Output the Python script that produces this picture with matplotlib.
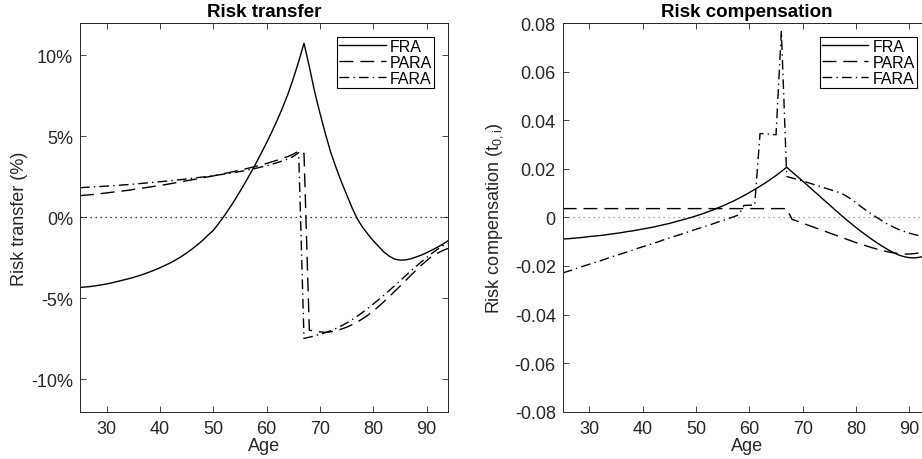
import matplotlib
matplotlib.use("Agg")
import matplotlib.pyplot as plt

# =========================
# DATA
# =========================

ages = list(range(25, 95))

# risk transfer (%)
rt_fra = [-4.33, -4.30, -4.27, -4.22, -4.17, -4.11, -4.04, -3.96, -3.88, -3.80,
          -3.71, -3.61, -3.50, -3.38, -3.25, -3.11, -2.96, -2.80, -2.62, -2.42,
          -2.20, -1.96, -1.70, -1.42, -1.10, -0.80, -0.38, 0.07, 0.55, 1.06,
          1.60, 2.16, 2.74, 3.34, 3.97, 4.62, 5.30, 6.02, 6.79, 7.62,
          8.58, 9.62, 10.75, 9.30, 7.75, 6.42, 5.18, 4.02, 3.08, 2.20,
          1.40, 0.60, -0.10, -0.62, -1.05, -1.45, -1.80, -2.15, -2.40, -2.58,
          -2.64, -2.63, -2.56, -2.45, -2.33, -2.18, -2.02, -1.85, -1.66, -1.45]
rt_para = [1.34, 1.37, 1.40, 1.43, 1.47, 1.51, 1.55, 1.59, 1.63, 1.67,
           1.72, 1.77, 1.82, 1.87, 1.92, 1.97, 2.02, 2.08, 2.14, 2.20,
           2.26, 2.32, 2.38, 2.44, 2.50, 2.56, 2.63, 2.70, 2.77, 2.84,
           2.91, 2.99, 3.07, 3.15, 3.24, 3.33, 3.43, 3.53, 3.64, 3.76,
           3.90, 4.10, 3.95, -6.97, -7.02, -7.07, -7.10, -7.07, -7.00, -6.90,
           -6.78, -6.63, -6.46, -6.26, -6.03, -5.78, -5.50, -5.20, -4.89, -4.57,
           -4.25, -3.92, -3.59, -3.27, -2.96, -2.67, -2.40, -2.22, -2.05, -1.92]
rt_fara = [1.83, 1.85, 1.87, 1.89, 1.91, 1.93, 1.95, 1.97, 2.00, 2.02,
           2.05, 2.08, 2.11, 2.14, 2.17, 2.20, 2.23, 2.26, 2.30, 2.33,
           2.37, 2.41, 2.45, 2.49, 2.53, 2.57, 2.62, 2.67, 2.72, 2.77,
           2.83, 2.89, 2.96, 3.03, 3.11, 3.19, 3.28, 3.38, 3.49, 3.61,
           3.76, 4.00, -7.48, -7.40, -7.32, -7.23, -7.12, -7.00, -6.86, -6.70,
           -6.52, -6.32, -6.10, -5.86, -5.61, -5.35, -5.08, -4.80, -4.51, -4.22,
           -3.92, -3.62, -3.32, -3.03, -2.75, -2.48, -2.22, -1.98, -1.76, -1.62]

# risk compensation
rc_fra = [-0.0089, -0.0088, -0.0086, -0.0084, -0.0082, -0.0079, -0.0077, -0.0075, -0.0072, -0.0069,
          -0.0066, -0.0063, -0.0059, -0.0056, -0.0052, -0.0048, -0.0044, -0.0040, -0.0035, -0.0030,
          -0.0025, -0.0019, -0.0013, -0.0007, -0.0001, 0.0006, 0.0013, 0.0021, 0.0029, 0.0038,
          0.0047, 0.0057, 0.0067, 0.0078, 0.0090, 0.0102, 0.0115, 0.0128, 0.0142, 0.0157,
          0.0172, 0.0189, 0.0206, 0.0187, 0.0168, 0.0149, 0.0130, 0.0110, 0.0091, 0.0071,
          0.0052, 0.0032, 0.0013, -0.0006, -0.0024, -0.0042, -0.0059, -0.0075, -0.0091, -0.0106,
          -0.0120, -0.0133, -0.0145, -0.0155, -0.0162, -0.0166, -0.0167, -0.0164, -0.0159, -0.0152]
rc_para = [0.0036] * 43 + [
           -0.0008, -0.0016, -0.0024, -0.0032, -0.0040, -0.0048, -0.0056,
           -0.0064, -0.0072, -0.0080, -0.0088, -0.0096, -0.0104, -0.0111, -0.0118, -0.0125, -0.0131,
           -0.0137, -0.0142, -0.0146, -0.0149, -0.0151, -0.0151, -0.0149, -0.0146, -0.0142, -0.0138]
rc_fara = [-0.0229, -0.0222, -0.0215, -0.0207, -0.0200, -0.0193, -0.0186, -0.0179, -0.0172, -0.0164,
           -0.0157, -0.0150, -0.0143, -0.0136, -0.0128, -0.0121, -0.0114, -0.0107, -0.0100, -0.0092,
           -0.0085, -0.0078, -0.0071, -0.0064, -0.0056, -0.0049, -0.0042, -0.0035, -0.0028, -0.0020,
           -0.0013, -0.0006, 0.0002, 0.0010, 0.0049, 0.0050, 0.0051, 0.0345, 0.0344, 0.0342,
           0.0340, 0.0768, 0.0168, 0.0162, 0.0156, 0.0150, 0.0143, 0.0136, 0.0129, 0.0122,
           0.0115, 0.0108, 0.0101, 0.0090, 0.0076, 0.0060, 0.0043, 0.0027, 0.0012, -0.0002,
           -0.0016, -0.0029, -0.0040, -0.0050, -0.0058, -0.0065, -0.0071, -0.0076, -0.0079, -0.0082]

labels = ["FRA", "PARA", "FARA"]

x_ticks = [30, 40, 50, 60, 70, 80, 90]
rt_ticks = [-10, -5, 0, 5, 10]
rt_tick_labels = ["-10%", "-5%", "0%", "5%", "10%"]
rc_ticks = [-0.08, -0.06, -0.04, -0.02, 0, 0.02, 0.04, 0.06, 0.08]
rc_tick_labels = ["-0.08", "-0.06", "-0.04", "-0.02", "0", "0.02", "0.04", "0.06", "0.08"]

# =========================
# STYLE
# =========================

plt.rcParams['font.family'] = ['Liberation Sans', 'DejaVu Sans']
plt.rcParams['mathtext.default'] = 'regular'
plt.rcParams['axes.unicode_minus'] = False

dash = (10, 5)
dashdot = (7, 3, 1, 3)


def style_axes(ax):
    ax.set_xlim(25, 94)
    ax.set_xticks(x_ticks)
    ax.tick_params(direction='in', top=True, right=True, length=4.5, width=0.6,
                   labelsize=13, colors='0.15')
    ax.tick_params(axis='x', pad=6)
    ax.tick_params(axis='y', pad=5)
    for s in ax.spines.values():
        s.set_color('0.15')
        s.set_linewidth(0.7)
    ax.set_xlabel("Age", fontsize=13, color='0.15', labelpad=0)


def draw(ax, fra, para, fara):
    ax.plot(ages, fra, color='k', lw=1.0, label=labels[0])
    ax.plot(ages, para, color='k', lw=1.0, dashes=dash, label=labels[1])
    ax.plot(ages, fara, color='k', lw=1.0, dashes=dashdot, label=labels[2])
    leg = ax.legend(loc='upper right', fontsize=11.5, fancybox=False, framealpha=1,
                    edgecolor='k', borderaxespad=0.85, borderpad=0.15,
                    labelspacing=0.05, handlelength=2.9, handletextpad=0.25)
    leg.get_frame().set_linewidth(0.8)


fig = plt.figure(figsize=(9.22, 4.6), dpi=100)

# =========================
# RISK TRANSFER
# =========================

ax1 = fig.add_axes([80 / 922, 47.3 / 460, 368 / 922, 388.7 / 460])
ax1.axhline(0, color='k', lw=0.9, linestyle=(0, (1, 3)))
draw(ax1, rt_fra, rt_para, rt_fara)
style_axes(ax1)
ax1.set_ylim(-12, 12)
ax1.set_yticks(rt_ticks)
ax1.set_yticklabels(rt_tick_labels)
ax1.set_ylabel("Risk transfer (%)", fontsize=13, color='0.15', labelpad=2)
ax1.set_title("Risk transfer", fontsize=13.5, fontweight='bold', pad=5)

# =========================
# RISK COMPENSATION
# =========================

ax2 = fig.add_axes([562.7 / 922, 47.3 / 460, 368 / 922, 388.7 / 460])
ax2.axhline(0, color='0.55', lw=0.9, linestyle=(0, (1, 3)))
draw(ax2, rc_fra, rc_para, rc_fara)
style_axes(ax2)
ax2.set_ylim(-0.08, 0.08)
ax2.set_yticks(rc_ticks)
ax2.set_yticklabels(rc_tick_labels)
ax2.set_ylabel("Risk compensation (t$_{0,i}$)", fontsize=13, color='0.15', labelpad=7)
ax2.set_title("Risk compensation", fontsize=13.5, fontweight='bold', pad=5)

fig.savefig("out.png", dpi=100)
